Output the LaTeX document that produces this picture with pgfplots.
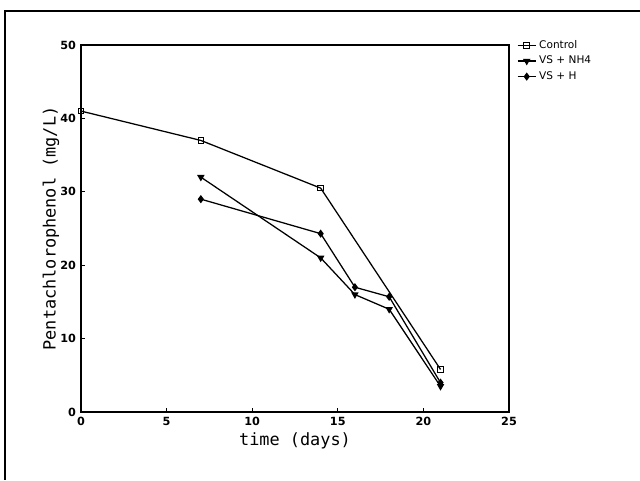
\documentclass[border=0pt]{standalone}
\usepackage{pgfplots}
\pgfplotsset{compat=1.18}
\usepackage{fontspec}
\setmainfont{DejaVu Sans}
\newfontfamily\labelfont{DejaVu Sans Mono}
\begin{document}
\begin{tikzpicture}
\path[use as bounding box] (0,0) rectangle (16cm,12cm);
\draw[line width=1.2pt] (0.125cm,0) -- (0.125cm,11.72cm) -- (16cm,11.72cm);
\begin{axis}[
  scale only axis,
  width=10.7cm, height=9.175cm,
  at={(2.025cm,1.7cm)}, anchor=south west,
  xmin=0, xmax=25, ymin=0, ymax=50,
  xtick={0,5,...,25}, ytick={0,10,...,50},
  tick align=inside, major tick length=3pt,
  xtick pos=bottom, ytick pos=left,
  axis line style={line width=0.9pt},
  tick style={line width=0.8pt, black},
  tick label style={font=\fontsize{8}{9}\selectfont\bfseries},
  /pgf/number format/assume math mode=true,
  xlabel={time (days)},
  ylabel={Pentachlorophenol (mg/L)},
  label style={font=\labelfont\fontsize{12}{13}\selectfont},
  xlabel style={yshift=2pt},
  ylabel style={yshift=-6pt},
  legend style={at={(1.015,1.025)}, anchor=north west, draw=none, fill=none,
    font=\fontsize{7.5}{8.5}\selectfont, row sep=0pt, inner sep=1pt},
  legend image code/.code={
    \draw[#1] (0cm,0cm) -- (0.45cm,0cm);
    \draw[#1, only marks] plot coordinates {(0.225cm,0cm)};
  },
  legend cell align=left,
  every axis plot/.append style={line width=0.9pt, black},
]
\addplot[mark=square, mark size=2pt, mark options={solid, line width=0.7pt}]
  coordinates {(0,41) (7,37) (14,30.5) (21,5.8)};
\addlegendentry{Control}
\addplot[mark=triangle*, mark size=2.2pt, mark options={rotate=180}]
  coordinates {(7,32) (14,21) (16,16) (18,14) (21,3.5)};
\addlegendentry{VS + NH4}
\addplot[mark=diamond*, mark size=2.2pt]
  coordinates {(7,29) (14,24.3) (16,17) (18,15.7) (21,4)};
\addlegendentry{VS + H}
\end{axis}
\end{tikzpicture}
\end{document}
